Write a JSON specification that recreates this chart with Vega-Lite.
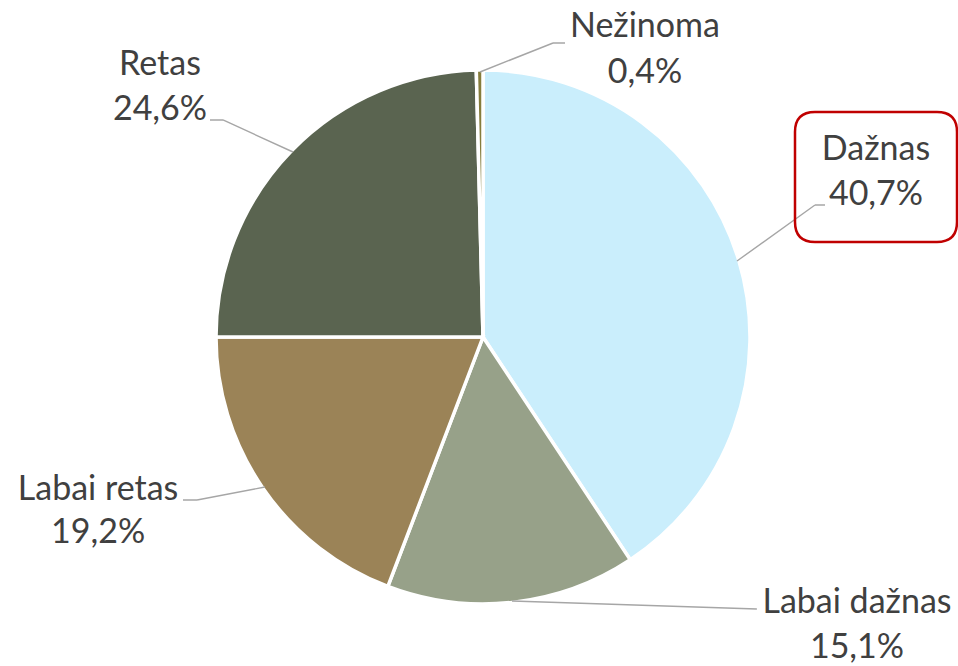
{
  "$schema": "https://vega.github.io/schema/vega-lite/v6.json",
  "width": 950,
  "height": 658,
  "autosize": "none",
  "padding": {"left": 8, "top": 8, "right": 0, "bottom": 0},
  "background": "white",
  "config": {
    "view": {"stroke": null},
    "locale": {"number": {"decimal": ",", "thousands": " ", "grouping": [3], "currency": ["", " €"]}}
  },
  "data": {
    "values": [
      {"cat": "Dažnas", "share": 0.407},
      {"cat": "Labai dažnas", "share": 0.151},
      {"cat": "Labai retas", "share": 0.192},
      {"cat": "Retas", "share": 0.246},
      {"cat": "Nežinoma", "share": 0.004}
    ]
  },
  "transform": [{"window": [{"op": "row_number", "as": "rn"}]}],
  "layer": [
    {
      "encoding": {
        "theta": {"field": "share", "type": "quantitative", "stack": true},
        "order": {"field": "rn", "type": "quantitative"},
        "detail": {"field": "cat", "type": "nominal"}
      },
      "layer": [
        {
          "mark": {"type": "arc", "outerRadius": 267, "stroke": "white", "strokeWidth": 3.5},
          "encoding": {
            "color": {
              "field": "cat", "type": "nominal", "legend": null,
              "scale": {
                "domain": ["Dažnas", "Labai dažnas", "Labai retas", "Retas", "Nežinoma"],
                "range": ["#CAEEFC", "#97A189", "#9B8357", "#5A6450", "#857C3C"]
              }
            }
          }
        },
        {
          "mark": {"type": "arc", "innerRadius": 0, "outerRadius": 78.6, "padAngle": 3.14, "thetaOffset": -5.07804, "theta2Offset": -5.07804, "xOffset": -3, "yOffset": -265, "stroke": "#A6A6A6", "strokeWidth": 1.4, "fill": "transparent"},
          "encoding": {"opacity": {"condition": {"test": "datum.cat === 'Nežinoma'", "value": 1}, "value": 0}}
        },
        {
          "mark": {"type": "arc", "innerRadius": 0, "outerRadius": 12, "padAngle": 3.14, "thetaOffset": -4.69982, "theta2Offset": -4.69982, "xOffset": 70, "yOffset": -294, "stroke": "#A6A6A6", "strokeWidth": 1.4, "fill": "transparent"},
          "encoding": {"opacity": {"condition": {"test": "datum.cat === 'Nežinoma'", "value": 1}, "value": 0}}
        },
        {
          "mark": {"type": "arc", "innerRadius": 0, "outerRadius": 96, "padAngle": 3.14, "thetaOffset": -0.33057, "theta2Offset": -0.33057, "xOffset": 254, "yOffset": -76, "stroke": "#A6A6A6", "strokeWidth": 1.4, "fill": "transparent"},
          "encoding": {"opacity": {"condition": {"test": "datum.cat === 'Dažnas'", "value": 1}, "value": 0}}
        },
        {
          "mark": {"type": "arc", "innerRadius": 0, "outerRadius": 10, "padAngle": 3.14, "thetaOffset": 0.29217, "theta2Offset": 0.29217, "xOffset": 332, "yOffset": -132, "stroke": "#A6A6A6", "strokeWidth": 1.4, "fill": "transparent"},
          "encoding": {"opacity": {"condition": {"test": "datum.cat === 'Dažnas'", "value": 1}, "value": 0}}
        },
        {
          "mark": {"type": "arc", "innerRadius": 0, "outerRadius": 245, "padAngle": 3.14, "thetaOffset": -1.42819, "theta2Offset": -1.42819, "xOffset": 29, "yOffset": 264, "stroke": "#A6A6A6", "strokeWidth": 1.4, "fill": "transparent"},
          "encoding": {"opacity": {"condition": {"test": "datum.cat === 'Labai dažnas'", "value": 1}, "value": 0}}
        },
        {
          "mark": {"type": "arc", "innerRadius": 0, "outerRadius": 69.2, "padAngle": 3.14, "thetaOffset": 0.41437, "theta2Offset": 0.41437, "xOffset": -218, "yOffset": 150, "stroke": "#A6A6A6", "strokeWidth": 1.4, "fill": "transparent"},
          "encoding": {"opacity": {"condition": {"test": "datum.cat === 'Labai retas'", "value": 1}, "value": 0}}
        },
        {
          "mark": {"type": "arc", "innerRadius": 0, "outerRadius": 14, "padAngle": 3.14, "thetaOffset": 0.60319, "theta2Offset": 0.60319, "xOffset": -286, "yOffset": 163, "stroke": "#A6A6A6", "strokeWidth": 1.4, "fill": "transparent"},
          "encoding": {"opacity": {"condition": {"test": "datum.cat === 'Labai retas'", "value": 1}, "value": 0}}
        },
        {
          "mark": {"type": "arc", "innerRadius": 0, "outerRadius": 77, "padAngle": 3.14, "thetaOffset": -0.34405, "theta2Offset": -0.34405, "xOffset": -190, "yOffset": -185, "stroke": "#A6A6A6", "strokeWidth": 1.4, "fill": "transparent"},
          "encoding": {"opacity": {"condition": {"test": "datum.cat === 'Retas'", "value": 1}, "value": 0}}
        },
        {
          "mark": {"type": "arc", "innerRadius": 0, "outerRadius": 13, "padAngle": 3.14, "thetaOffset": -0.77283, "theta2Offset": -0.77283, "xOffset": -260, "yOffset": -217, "stroke": "#A6A6A6", "strokeWidth": 1.4, "fill": "transparent"},
          "encoding": {"opacity": {"condition": {"test": "datum.cat === 'Retas'", "value": 1}, "value": 0}}
        },
        {
          "mark": {"type": "text", "radius": 265, "dx": 165.3, "dy": -35, "align": "center", "baseline": "alphabetic", "font": "Lato", "fontSize": 34, "fill": "#404040"},
          "encoding": {"text": {"condition": {"test": "datum.cat === 'Nežinoma'", "field": "cat", "type": "nominal"}, "value": ""}}
        },
        {
          "mark": {"type": "text", "radius": 265, "dx": 165.3, "dy": 11, "align": "center", "baseline": "alphabetic", "font": "Lato", "fontSize": 34, "fill": "#404040"},
          "encoding": {"text": {"condition": {"test": "datum.cat === 'Nežinoma'", "field": "share", "type": "quantitative", "format": ".1%"}, "value": ""}}
        },
        {
          "mark": {"type": "text", "radius": 265, "dx": 139.2, "dy": -100.7, "align": "center", "baseline": "alphabetic", "font": "Lato", "fontSize": 34, "fill": "#404040"},
          "encoding": {"text": {"condition": {"test": "datum.cat === 'Dažnas'", "field": "cat", "type": "nominal"}, "value": ""}}
        },
        {
          "mark": {"type": "text", "radius": 265, "dx": 139.2, "dy": -55.7, "align": "center", "baseline": "alphabetic", "font": "Lato", "fontSize": 34, "fill": "#404040"},
          "encoding": {"text": {"condition": {"test": "datum.cat === 'Dažnas'", "field": "share", "type": "quantitative", "format": ".1%"}, "value": ""}}
        },
        {
          "mark": {"type": "text", "radius": 265, "dx": 344.9, "dy": 12.6, "align": "center", "baseline": "alphabetic", "font": "Lato", "fontSize": 34, "fill": "#404040"},
          "encoding": {"text": {"condition": {"test": "datum.cat === 'Labai dažnas'", "field": "cat", "type": "nominal"}, "value": ""}}
        },
        {
          "mark": {"type": "text", "radius": 265, "dx": 344.9, "dy": 57.6, "align": "center", "baseline": "alphabetic", "font": "Lato", "fontSize": 34, "fill": "#404040"},
          "encoding": {"text": {"condition": {"test": "datum.cat === 'Labai dažnas'", "field": "share", "type": "quantitative", "format": ".1%"}, "value": ""}}
        },
        {
          "mark": {"type": "text", "radius": 265, "dx": -166.7, "dy": 12.7, "align": "center", "baseline": "alphabetic", "font": "Lato", "fontSize": 34, "fill": "#404040"},
          "encoding": {"text": {"condition": {"test": "datum.cat === 'Labai retas'", "field": "cat", "type": "nominal"}, "value": ""}}
        },
        {
          "mark": {"type": "text", "radius": 265, "dx": -166.7, "dy": 55.7, "align": "center", "baseline": "alphabetic", "font": "Lato", "fontSize": 34, "fill": "#404040"},
          "encoding": {"text": {"condition": {"test": "datum.cat === 'Labai retas'", "field": "share", "type": "quantitative", "format": ".1%"}, "value": ""}}
        },
        {
          "mark": {"type": "text", "radius": 265, "dx": -133.3, "dy": -76.9, "align": "center", "baseline": "alphabetic", "font": "Lato", "fontSize": 34, "fill": "#404040"},
          "encoding": {"text": {"condition": {"test": "datum.cat === 'Retas'", "field": "cat", "type": "nominal"}, "value": ""}}
        },
        {
          "mark": {"type": "text", "radius": 265, "dx": -133.3, "dy": -31.9, "align": "center", "baseline": "alphabetic", "font": "Lato", "fontSize": 34, "fill": "#404040"},
          "encoding": {"text": {"condition": {"test": "datum.cat === 'Retas'", "field": "share", "type": "quantitative", "format": ".1%"}, "value": ""}}
        }
      ]
    },
    {
      "transform": [{"filter": "datum.cat === 'Dažnas'"}],
      "mark": {
        "type": "point",
        "shape": "M 332 -225 L 454 -225 Q 474 -225 474 -205 L 474 -115 Q 474 -95 454 -95 L 332 -95 Q 312 -95 312 -115 L 312 -205 Q 312 -225 332 -225 Z",
        "size": 4,
        "filled": false,
        "color": "#C00000",
        "strokeWidth": 2.5,
        "opacity": 1
      },
      "encoding": {}
    }
  ]
}
